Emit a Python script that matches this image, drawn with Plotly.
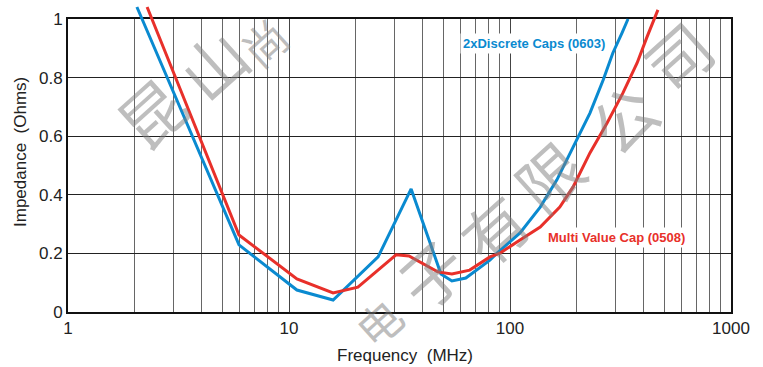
import plotly.graph_objects as go

# ---- data ----
blue_freq = [2.05, 5.94, 10.86, 15.83, 25.3, 35.7, 48.7, 54.6, 63.1, 81.1, 87.4,
             111, 137, 163, 193, 230, 264, 292, 321, 342]
blue_imp = [1.041, 0.229, 0.075, 0.041, 0.188, 0.420, 0.130, 0.106, 0.116, 0.177, 0.201,
            0.270, 0.358, 0.451, 0.563, 0.679, 0.792, 0.884, 0.952, 1.0]

red_freq = [2.28, 5.94, 10.86, 15.83, 20.5, 30.5, 34.9, 47.1, 54.6, 65.7, 81.1, 90.2,
            111, 137, 168, 193, 230, 275, 324, 376, 417, 467]
red_imp = [1.041, 0.263, 0.113, 0.065, 0.085, 0.195, 0.191, 0.137, 0.130, 0.143, 0.188, 0.201,
           0.246, 0.290, 0.358, 0.427, 0.543, 0.645, 0.747, 0.850, 0.939, 1.031]

blue_name = "2xDiscrete Caps (0603)"
red_name = "Multi Value Cap (0508)"

x_tickvals = [1, 10, 100, 1000]
x_ticktext = ["1", "10", "100", "1000"]
x_minor = [m * d for d in (1, 10, 100) for m in range(2, 10)]
y_tickvals = [0, 0.2, 0.4, 0.6, 0.8, 1.0]
y_ticktext = ["0", "0.2", "0.4", "0.6", "0.8", "1"]

watermark_chars = ["昆", "山", "尚", "电", "子", "有", "限", "公", "司"]
watermark_x = [0.1237, 0.2172, 0.2956, 0.4676, 0.546, 0.641, 0.724, 0.836, 0.9186]
watermark_y = [0.641, 0.798, 0.865, -0.032, 0.128, 0.269, 0.439, 0.625, 0.824]
watermark_size = [64, 64, 44, 44, 64, 64, 64, 64, 64]

BLUE = "#0a8ad0"
RED = "#e8302a"
FONT = "Liberation Sans, Arial, sans-serif"

W, H = 763, 367
ML, MR, MT, MB = 68, 32, 0, 55
plot_h = H - MT - MB          # 312
plot_w = W - ML - MR          # 663
grid_h = 293                  # height of 0..1 region

fig = go.Figure()
# empty trace so the gridded main subplot is rendered
fig.add_trace(go.Scatter(x=[None], y=[None], mode="lines", showlegend=False,
                         hoverinfo="skip", xaxis="x", yaxis="y"))
fig.add_trace(go.Scatter(x=blue_freq, y=blue_imp, mode="lines", name=blue_name,
                         line=dict(color=BLUE, width=3), xaxis="x2", yaxis="y2"))
fig.add_trace(go.Scatter(x=red_freq, y=red_imp, mode="lines", name=red_name,
                         line=dict(color=RED, width=3), xaxis="x2", yaxis="y2"))

annotations = []
for ch, ax_, ay_, sz in zip(watermark_chars, watermark_x, watermark_y, watermark_size):
    annotations.append(dict(text=ch, x=ax_, y=ay_, xref="paper", yref="paper",
                            xanchor="center", yanchor="middle",
                            showarrow=False, textangle=-42,
                            font=dict(family="Noto Sans CJK SC", size=sz,
                                      color="rgba(125,125,125,0.5)")))

annotations += [
    dict(text=blue_name, x=0.7036, y=0.859, xref="paper", yref="paper", showarrow=False,
         xanchor="center", yanchor="middle",
         font=dict(family=FONT, size=13, color=BLUE, weight="bold"),
         bgcolor="white", borderpad=2),
    dict(text=red_name, x=0.828, y=0.240, xref="paper", yref="paper", showarrow=False,
         xanchor="center", yanchor="middle",
         font=dict(family=FONT, size=13, color=RED, weight="bold"),
         bgcolor="white", borderpad=2),
    dict(text="Impedance  (Ohms)", x=(20 - ML) / plot_w, y=(plot_h - 152) / plot_h,
         xref="paper", yref="paper", showarrow=False, textangle=-90,
         xanchor="center", yanchor="middle",
         font=dict(family=FONT, size=17, color="#222")),
    dict(text="Frequency  (MHz)", x=(405 - ML) / plot_w, y=(plot_h - 355) / plot_h,
         xref="paper", yref="paper", showarrow=False,
         xanchor="center", yanchor="middle",
         font=dict(family=FONT, size=17, color="#222")),
]

fig.update_layout(
    width=W, height=H,
    margin=dict(l=ML, r=MR, t=MT, b=MB, pad=0, autoexpand=False),
    paper_bgcolor="white", plot_bgcolor="rgba(0,0,0,0)",
    showlegend=False,
    font=dict(family=FONT, size=17, color="#222"),
    xaxis=dict(type="log", range=[0, 3], domain=[0, 1], anchor="y", automargin=False,
               tickvals=x_tickvals, ticktext=x_ticktext, ticks="",
               showgrid=True, gridcolor="#444", gridwidth=1,
               minor=dict(tickvals=x_minor, showgrid=True, gridcolor="#666", gridwidth=1, ticks=""),
               showline=True, linecolor="#111", linewidth=2, mirror=True,
               zeroline=False, tickfont=dict(size=17)),
    yaxis=dict(range=[0, 1], domain=[0, grid_h / plot_h], anchor="x", automargin=False,
               tickvals=y_tickvals, ticktext=y_ticktext, ticks="",
               showgrid=True, gridcolor="#222", gridwidth=1,
               showline=True, linecolor="#111", linewidth=2, mirror=True,
               zeroline=False, tickfont=dict(size=17)),
    xaxis2=dict(type="log", range=[0, 3], domain=[0, 1], anchor="y2", visible=False,
                automargin=False),
    yaxis2=dict(range=[0, plot_h / grid_h], domain=[0, 1], anchor="x2", visible=False,
                automargin=False),
    annotations=annotations,
)

fig.write_html("out.html", config={"displayModeBar": False},
               post_script="document.body.style.margin='0';")
